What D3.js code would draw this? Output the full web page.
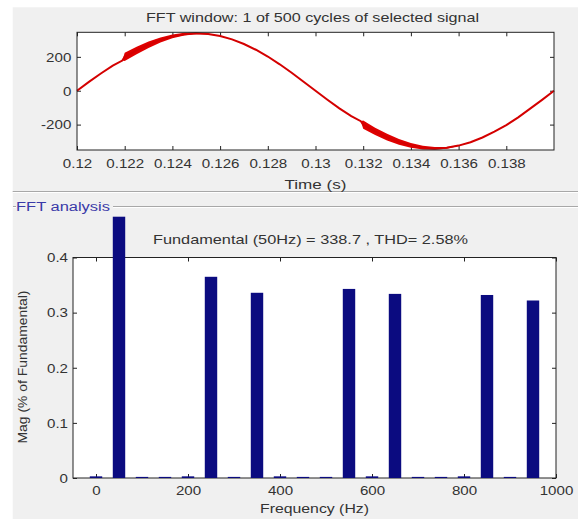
<!DOCTYPE html>
<html><head><meta charset="utf-8">
<script src="https://cdn.jsdelivr.net/npm/d3@7"></script>
<style>
body{margin:0;background:#fff;}
svg{display:block;font-family:"Liberation Sans",Arial,sans-serif;}
</style></head><body>
<svg id="c" width="578" height="519"></svg>
<script>
// ---- data ----
const sigTime = [0.1200,0.1205,0.1210,0.1215,0.1219,0.1220,0.1225,0.1230,0.1235,0.1240,0.1245,0.1250,0.1255,0.1260,0.1265,0.1270,0.1275,0.1280,0.1285,0.1290,0.1295,0.1300,0.1305,0.1310,0.1315,0.1319,0.1320,0.1325,0.1330,0.1335,0.1340,0.1345,0.1350,0.1355,0.1360,0.1365,0.1370,0.1375,0.1380,0.1385,0.1390,0.1395,0.1400];
const sigValue = [0,52,102,148,178,200,238,272,300,321,334,339,335,323,303,276,242,202,156,106,53,0,-53,-104,-150,-180,-200,-240,-274,-302,-322,-336,-341,-337,-324,-304,-276,-242,-203,-157,-106,-54,0];
const rippleHalf = [0,0,0,0,0,24,22,19,15,11,8,5,3,0,0,0,0,0,0,0,0,0,0,0,0,0,24,22,20,17,14,11,8,5,2,0,0,0,0,0,0,0,0];
const timeTicks = [0.12,0.122,0.124,0.126,0.128,0.13,0.132,0.134,0.136,0.138];
const voltTicks = [-200,0,200];
const harmFreq = [0,50,100,150,200,250,300,350,400,450,500,550,600,650,700,750,800,850,900,950,1000];
const harmMag  = [0.003,0.474,0.002,0.002,0.003,0.365,0.002,0.336,0.003,0.002,0.002,0.343,0.003,0.334,0.002,0.002,0.003,0.332,0.002,0.322,0];
const freqTicks = [0,200,400,600,800,1000];
const magTicks = [0,0.1,0.2,0.3,0.4];
const topTitle = "FFT window: 1 of 500 cycles of selected signal";
const topXLabel = "Time (s)";
const fftText = "Fundamental (50Hz) = 338.7 , THD= 2.58%";
const botXLabel = "Frequency (Hz)";
const botYLabel = "Mag (% of Fundamental)";
const panelTitle = "FFT analysis";

// ---- drawing ----
const svg = d3.select("#c");
const SX = 1.12, TXT = "#333";
svg.append("rect").attr("width",578).attr("height",519).attr("fill","#fff");
svg.append("rect").attr("x",12.7).attr("y",7.3).attr("width",578).attr("height",519).attr("fill","#f0f0f0");
svg.append("line").attr("x1",12.7).attr("x2",578).attr("y1",191.5).attr("y2",191.5).attr("stroke","#a8a8a8");
svg.append("line").attr("x1",12.7).attr("x2",578).attr("y1",192.5).attr("y2",192.5).attr("stroke","#fff");
[[13,16],[113,578]].forEach(([a,b])=>{
  svg.append("line").attr("x1",a).attr("x2",b).attr("y1",206.5).attr("y2",206.5).attr("stroke","#a8a8a8");
  svg.append("line").attr("x1",a).attr("x2",b).attr("y1",207.5).attr("y2",207.5).attr("stroke","#fff");
});
svg.append("text").attr("x",16).attr("y",211).attr("font-size",12).attr("fill","#3a3aa8")
  .attr("textLength",94).attr("lengthAdjust","spacingAndGlyphs").text(panelTitle);

function stretchText(sel){ sel.attr("transform",`scale(${SX},1)`); }

function frame(g, x0,x1,y0,y1, xs, ys, xt, yt, xfmt, yfmt, xPad, yPad){
  g.append("rect").attr("x",x0).attr("y",y0).attr("width",x1-x0).attr("height",y1-y0).attr("fill","#fff");
  const mk = (axis, tr) => {
    const a = g.append("g").attr("transform",tr).call(axis);
    a.select(".domain").remove();
    a.selectAll("line").attr("stroke","#222");
    return a;
  };
  const bx = mk(d3.axisBottom(xs).tickValues(xt).tickSize(-4).tickSizeOuter(0).tickPadding(xPad).tickFormat(xfmt), `translate(0,${y1})`);
  const tx = mk(d3.axisTop(xs).tickValues(xt).tickSize(-4).tickSizeOuter(0).tickFormat(""), `translate(0,${y0})`);
  const ly = mk(d3.axisLeft(ys).tickValues(yt).tickSize(-4).tickSizeOuter(0).tickPadding(yPad).tickFormat(yfmt), `translate(${x0},0)`);
  const ry = mk(d3.axisRight(ys).tickValues(yt).tickSize(-4).tickSizeOuter(0).tickFormat(""), `translate(${x1},0)`);
  [bx,ly].forEach(a=>a.selectAll("text").attr("font-size",13.5).attr("fill",TXT)
     .attr("font-family",'"Liberation Sans",Arial,sans-serif').call(stretchText));
  return ()=> g.append("rect").attr("x",x0).attr("y",y0).attr("width",x1-x0).attr("height",y1-y0)
     .attr("fill","none").attr("stroke","#222").attr("stroke-width",1);
}

// top plot
const T = {x0:77,x1:554,y0:32.3,y1:150};
const xT = d3.scaleLinear().domain([0.12,0.14]).range([T.x0,T.x1]);
const yT = d3.scaleLinear().domain([-350,345]).range([T.y1,T.y0]);
const gT = svg.append("g");
const boxT = frame(gT,T.x0,T.x1,T.y0,T.y1,xT,yT,timeTicks,voltTicks,d=>String(+d.toFixed(3)),d=>String(d),8,5.7/SX);
const pts = sigTime.map((t,i)=>({t,v:sigValue[i],r:rippleHalf[i]}));
gT.append("path").datum(pts).attr("fill","#e00000")
  .attr("d",d3.area().x(d=>xT(d.t)).y0(d=>yT(d.v-d.r)).y1(d=>yT(d.v+d.r)));
gT.append("path").datum(pts).attr("fill","none").attr("stroke","#d40000").attr("stroke-width",2)
  .attr("d",d3.line().x(d=>xT(d.t)).y(d=>yT(d.v)));
boxT();
svg.append("text").attr("x",(T.x0+T.x1)/2-3).attr("y",21.7).attr("text-anchor","middle").attr("font-size",13.5)
  .attr("fill",TXT).attr("textLength",333).attr("lengthAdjust","spacingAndGlyphs").text(topTitle);
svg.append("text").attr("x",(T.x0+T.x1)/2).attr("y",189).attr("text-anchor","middle").attr("font-size",13.5)
  .attr("fill",TXT).attr("textLength",62).attr("lengthAdjust","spacingAndGlyphs").text(topXLabel);

// bottom plot
const B = {x0:73,x1:556,y0:257.5,y1:478};
const xB = d3.scaleLinear().domain([-50,1000]).range([B.x0,B.x1]);
const yB = d3.scaleLinear().domain([0,0.4]).range([B.y1,B.y0]);
const gB = svg.append("g");
const boxB = frame(gB,B.x0,B.x1,B.y0,B.y1,xB,yB,freqTicks,magTicks,d=>String(d),d=>String(d),7,5/SX);
const bw = 27;
gB.selectAll("rect.bar").data(harmFreq.map((f,i)=>({f,m:harmMag[i]}))).join("rect").attr("class","bar")
  .attr("x",d=>xB(d.f-bw/2)).attr("width",d=>xB(d.f+bw/2)-xB(d.f-bw/2))
  .attr("y",d=>yB(d.m)).attr("height",d=>yB(0)-yB(d.m)).attr("fill","#0b0b80");
boxB();
gB.selectAll("rect.bar").raise();
svg.append("text").attr("x",310.5).attr("y",244).attr("text-anchor","middle").attr("font-size",13.5)
  .attr("fill",TXT).attr("textLength",315).attr("lengthAdjust","spacingAndGlyphs").text(fftText);
svg.append("text").attr("x",(B.x0+B.x1)/2).attr("y",513).attr("text-anchor","middle").attr("font-size",13.5)
  .attr("fill",TXT).attr("textLength",109).attr("lengthAdjust","spacingAndGlyphs").text(botXLabel);
svg.append("text").attr("transform",`translate(27,367) rotate(-90)`).attr("text-anchor","middle").attr("font-size",13.5)
  .attr("fill",TXT).attr("textLength",153).attr("lengthAdjust","spacingAndGlyphs").text(botYLabel);
</script>
</body></html>
